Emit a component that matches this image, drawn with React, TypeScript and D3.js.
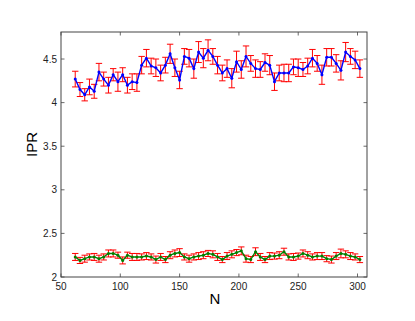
import React from "react";
import * as d3 from "d3";

const nValues: number[] = d3.range(62, 303, 4);

const upperMean: number[] = [
  4.27, 4.15, 4.09, 4.18, 4.13, 4.35, 4.27, 4.2, 4.32, 4.24,
  4.32, 4.2, 4.24, 4.23, 4.43, 4.51, 4.42, 4.4, 4.34, 4.43,
  4.56, 4.4, 4.26, 4.53, 4.51, 4.39, 4.58, 4.51, 4.6, 4.53,
  4.43, 4.34, 4.39, 4.28, 4.47, 4.38, 4.53, 4.45, 4.39, 4.38,
  4.46, 4.43, 4.24, 4.34, 4.34, 4.34, 4.41, 4.4, 4.38, 4.42,
  4.51, 4.45, 4.32, 4.52, 4.52, 4.45, 4.37, 4.58, 4.53, 4.49,
  4.39,
];

const upperErr: number[] = [
  0.09, 0.08, 0.07, 0.09, 0.08, 0.1, 0.08, 0.09, 0.07, 0.11,
  0.08, 0.09, 0.09, 0.1, 0.1, 0.1, 0.09, 0.1, 0.09, 0.09,
  0.11, 0.1, 0.1, 0.09, 0.1, 0.11, 0.12, 0.11, 0.12, 0.09,
  0.1, 0.09, 0.1, 0.11, 0.12, 0.1, 0.12, 0.09, 0.1, 0.09,
  0.1, 0.11, 0.1, 0.09, 0.1, 0.1, 0.09, 0.1, 0.08, 0.09,
  0.1, 0.09, 0.11, 0.1, 0.1, 0.1, 0.11, 0.11, 0.09, 0.1,
  0.1,
];

const lowerMean: number[] = [
  2.23, 2.19, 2.21, 2.23, 2.23, 2.21, 2.23, 2.27, 2.27, 2.25,
  2.19, 2.25, 2.23, 2.23, 2.23, 2.24, 2.23, 2.2, 2.23, 2.2,
  2.25, 2.27, 2.28, 2.23, 2.21, 2.23, 2.24, 2.25, 2.27, 2.26,
  2.23, 2.2, 2.24, 2.26, 2.28, 2.3, 2.21, 2.2, 2.29, 2.23,
  2.2, 2.24, 2.24, 2.25, 2.29, 2.23, 2.23, 2.24, 2.27, 2.25,
  2.23, 2.24, 2.24, 2.21, 2.2, 2.24, 2.27, 2.26, 2.24, 2.23,
  2.2,
];

const lowerErr: number[] = [
  0.04, 0.035, 0.04, 0.035, 0.04, 0.04, 0.035, 0.04, 0.04, 0.035,
  0.04, 0.035, 0.04, 0.04, 0.035, 0.04, 0.035, 0.04, 0.04, 0.035,
  0.04, 0.04, 0.045, 0.035, 0.04, 0.035, 0.04, 0.04, 0.035, 0.04,
  0.04, 0.035, 0.04, 0.04, 0.035, 0.045, 0.04, 0.035, 0.045, 0.04,
  0.035, 0.04, 0.035, 0.04, 0.04, 0.035, 0.04, 0.035, 0.04, 0.04,
  0.035, 0.04, 0.04, 0.035, 0.04, 0.04, 0.05, 0.04, 0.04, 0.035,
  0.035,
];

const xTicks: number[] = [50, 100, 150, 200, 250, 300];
const yTicks: number[] = [2, 2.5, 3, 3.5, 4, 4.5];

const W = 415;
const H = 321;
const L = 61;
const R = 367;
const T = 32;
const B = 277;

export default function App() {
  const x = d3.scaleLinear().domain([50, 308]).range([L, R]);
  const y = d3.scaleLinear().domain([2, 4.81]).range([B, T]);

  const line = d3
    .line<number>()
    .x((_, i) => x(nValues[i]))
    .y((d) => y(d));

  const axisColor = "#444";
  const font = "'Liberation Sans', Arial, Helvetica, sans-serif";
  const cap = 3.2;
  const tickLen = 3.5;

  const errBars = (mean: number[], err: number[], key: string) =>
    mean.map((m, i) => {
      const cx = x(nValues[i]);
      const y1 = y(m - err[i]);
      const y2 = y(m + err[i]);
      return (
        <g key={key + i} stroke="#ff0000" strokeWidth={1}>
          <line x1={cx} x2={cx} y1={y1} y2={y2} />
          <line x1={cx - cap} x2={cx + cap} y1={y1} y2={y1} />
          <line x1={cx - cap} x2={cx + cap} y1={y2} y2={y2} />
        </g>
      );
    });

  return (
    <svg
      width={W}
      height={H}
      style={{ position: "absolute", left: 0, top: 0, background: "#fff" }}
    >
      <rect x={0} y={0} width={W} height={H} fill="#fff" />
      {/* ticks */}
      {xTicks.map((t) => (
        <g key={"xt" + t} stroke={axisColor} strokeWidth={0.8}>
          <line x1={x(t)} x2={x(t)} y1={B} y2={B - tickLen} />
          <line x1={x(t)} x2={x(t)} y1={T} y2={T + tickLen} />
        </g>
      ))}
      {yTicks.map((t) => (
        <g key={"yt" + t} stroke={axisColor} strokeWidth={0.8}>
          <line x1={L} x2={L + tickLen} y1={y(t)} y2={y(t)} />
          <line x1={R} x2={R - tickLen} y1={y(t)} y2={y(t)} />
        </g>
      ))}
      {/* data */}
      {errBars(upperMean, upperErr, "u")}
      {errBars(lowerMean, lowerErr, "l")}
      <path d={line(upperMean) || ""} fill="none" stroke="#0000ff" strokeWidth={1.4} />
      <path d={line(lowerMean) || ""} fill="none" stroke="#008000" strokeWidth={1.4} />
      {upperMean.map((m, i) => (
        <circle key={"um" + i} cx={x(nValues[i])} cy={y(m)} r={1.5} fill="#0000ff" />
      ))}
      {lowerMean.map((m, i) => (
        <circle key={"lm" + i} cx={x(nValues[i])} cy={y(m)} r={1.5} fill="#008000" />
      ))}
      {/* box */}
      <rect x={L} y={T} width={R - L} height={B - T} fill="none" stroke={axisColor} strokeWidth={1} />
      {/* tick labels */}
      {xTicks.map((t) => (
        <text
          key={"xl" + t}
          x={x(t)}
          y={B + 13}
          textAnchor="middle"
          fontSize={10}
          fontFamily={font}
          fill="#222"
        >
          {t}
        </text>
      ))}
      {yTicks.map((t) => (
        <text
          key={"yl" + t}
          x={L - 4}
          y={y(t) + 3.5}
          textAnchor="end"
          fontSize={10}
          fontFamily={font}
          fill="#222"
        >
          {t}
        </text>
      ))}
      <text x={215} y={304} textAnchor="middle" fontSize={15} fontFamily={font} fill="#000">
        N
      </text>
      <text
        x={0}
        y={0}
        transform={`translate(37,${(T + B) / 2 - 10}) rotate(-90)`}
        textAnchor="middle"
        fontSize={15}
        fontFamily={font}
        fill="#000"
      >
        IPR
      </text>
    </svg>
  );
}
